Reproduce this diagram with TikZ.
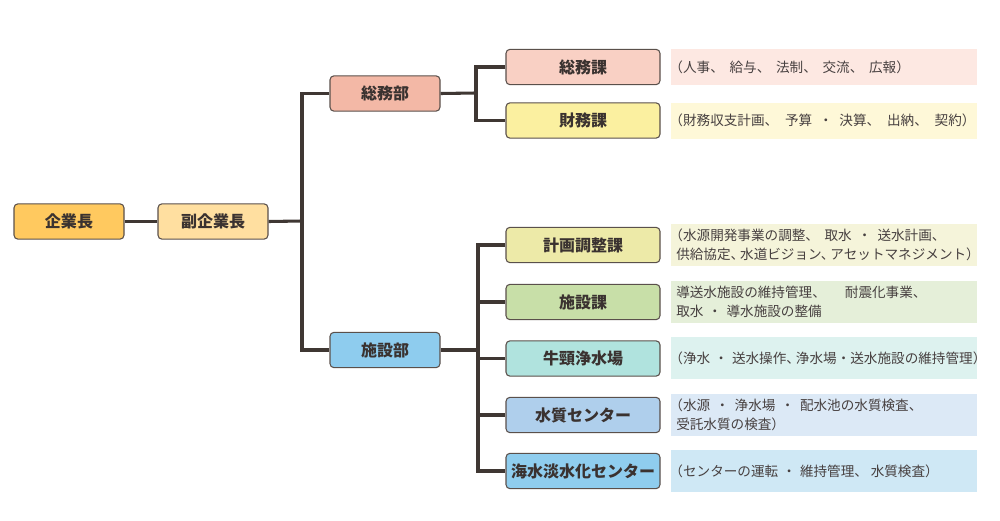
\documentclass[tikz,border=0pt]{standalone}
\usepackage{fontspec}
\setmainfont{Noto Sans CJK JP}
\definecolor{linec}{HTML}{3F3733}
\definecolor{borderc}{HTML}{5A504B}
\definecolor{txtc}{HTML}{3A3230}
\definecolor{desctxt}{HTML}{474040}
\definecolor{cKigyo}{HTML}{FFC95F}
\definecolor{cFuku}{HTML}{FFDFA0}
\definecolor{cSomubu}{HTML}{F3B8A6}
\definecolor{cShisetsubu}{HTML}{8ECCEE}
\definecolor{cSomuka}{HTML}{F9D0C4}
\definecolor{dSomuka}{HTML}{FDE8E2}
\definecolor{cZaimu}{HTML}{FBF0A0}
\definecolor{dZaimu}{HTML}{FEF8D8}
\definecolor{cKeikaku}{HTML}{EDEAA8}
\definecolor{dKeikaku}{HTML}{F5F4DA}
\definecolor{cShisetsuka}{HTML}{C8DFA8}
\definecolor{dShisetsuka}{HTML}{E5EFD9}
\definecolor{cUshi}{HTML}{B0E3DE}
\definecolor{dUshi}{HTML}{DDF2EF}
\definecolor{cSuishitsu}{HTML}{AFCFEC}
\definecolor{dSuishitsu}{HTML}{DCE9F6}
\definecolor{cKaisui}{HTML}{8FCDEE}
\definecolor{dKaisui}{HTML}{CFE8F5}
% spacing helpers (kerns: no line breaks)
\newcommand\myjc[1]{、\kern#1em\relax}
\newcommand\myjd[1]{\kern#1em\relax ・\kern#1em\relax}
\newcommand\myop{\kern-0.5em\relax （}
\tikzset{
  orgbox/.style={draw=borderc, line width=0.8pt, rounded corners=3pt,
    font=\bfseries\fontsize{12}{14}\selectfont, text=txtc,
    minimum height=26.5pt, inner sep=0pt},
  lvl1/.style={orgbox, minimum width=82.5pt},
  lvl2/.style={orgbox, minimum width=115.5pt},
  descbox/.style={anchor=west, minimum width=229.5pt, text width=222pt,
    inner xsep=3.75pt, inner ysep=0pt, align=left, text=desctxt,
    font=\fontsize{10.2}{14.6}\selectfont},
  conn/.style={draw=linec, line width=2.3pt}
}
\begin{document}
\begin{tikzpicture}[x=0.75pt, y=-0.75pt]
\useasboundingbox (0,0) rectangle (1000,521);
% junction points
\coordinate (t1) at (302,221);
\coordinate (t2) at (476,93);
\coordinate (t3) at (478,350);
% level boxes
\node[lvl1, fill=cKigyo] (kigyo) at (69,221.5) {企業長};
\node[lvl1, fill=cFuku] (fuku) at (213,221.5) {副企業長};
\node[lvl1, fill=cSomubu] (somubu) at (385,93.5) {総務部};
\node[lvl1, fill=cShisetsubu] (shisetsubu) at (385,350) {施設部};
\node[lvl2, fill=cSomuka] (somuka) at (583,67) {総務課};
\node[lvl2, fill=cZaimu] (zaimu) at (583,120.5) {財務課};
\node[lvl2, fill=cKeikaku] (keikaku) at (583,245) {計画調整課};
\node[lvl2, fill=cShisetsuka] (shisetsuka) at (583,302) {施設課};
\node[lvl2, fill=cUshi] (ushi) at (583,358.5) {牛頸浄水場};
\node[lvl2, fill=cSuishitsu] (suishitsu) at (583,415) {水質センター};
\node[lvl2, fill=cKaisui] (kaisui) at (583,471) {海水淡水化センター};
% descriptions
\node[descbox, fill=dSomuka, minimum height=27pt] (d1) at (671,67)
  {\myop 人事\myjc{0.42}給与\myjc{0.42}法制\myjc{0.42}交流\myjc{0.42}広報）};
\node[descbox, fill=dZaimu, minimum height=27pt] (d2) at (671,120.5)
  {\myop 財務収支計画\myjc{0.5}予算\myjd{0.5}決算\myjc{0.5}出納\myjc{0.5}契約）};
\node[descbox, fill=dKeikaku, minimum height=31.5pt] (d3) at (671,245)
  {\myop 水源開発事業の調整\myjc{0.4}取水\myjd{0.45}送水計画、\\供給協定\myjc{-0.3}水道ビジョン\myjc{-0.3}アセットマネジメント）};
\node[descbox, fill=dShisetsuka, minimum height=31.5pt] (d4) at (671,302)
  {導送水施設の維持管理\myjc{1.4}耐震化事業、\\取水\myjd{0.35}導水施設の整備};
\node[descbox, fill=dUshi, minimum height=31.5pt] (d5) at (671,358)
  {\myop 浄水\myjd{0.3}送水操作\myjc{-0.3}浄水場\myjd{0}送水施設の維持管理）};
\node[descbox, fill=dSuishitsu, minimum height=31.5pt] (d6) at (671,415)
  {\myop 水源\myjd{0.4}浄水場\myjd{0.4}配水池の水質検査、\\受託水質の検査）};
\node[descbox, fill=dKaisui, minimum height=31.5pt] (d7) at (671,471)
  {\myop センターの運転\myjd{0.3}維持管理\myjc{0.2}水質検査）};
% connectors
\draw[conn] (kigyo.east) -- (fuku.west);
\draw[conn] (fuku.east) -- (t1);
\draw[conn] (somubu.west) -| (t1) |- (shisetsubu.west);
\draw[conn] (somubu.east) -- (t2);
\draw[conn] (somuka.west) -| (t2) |- (zaimu.west);
\draw[conn] (shisetsubu.east) -- (t3);
\draw[conn] (keikaku.west) -| (t3) |- (kaisui.west);
\draw[conn] (t3) |- (shisetsuka.west);
\draw[conn] (t3) |- (ushi.west);
\draw[conn] (t3) |- (suishitsu.west);
\end{tikzpicture}
\end{document}
